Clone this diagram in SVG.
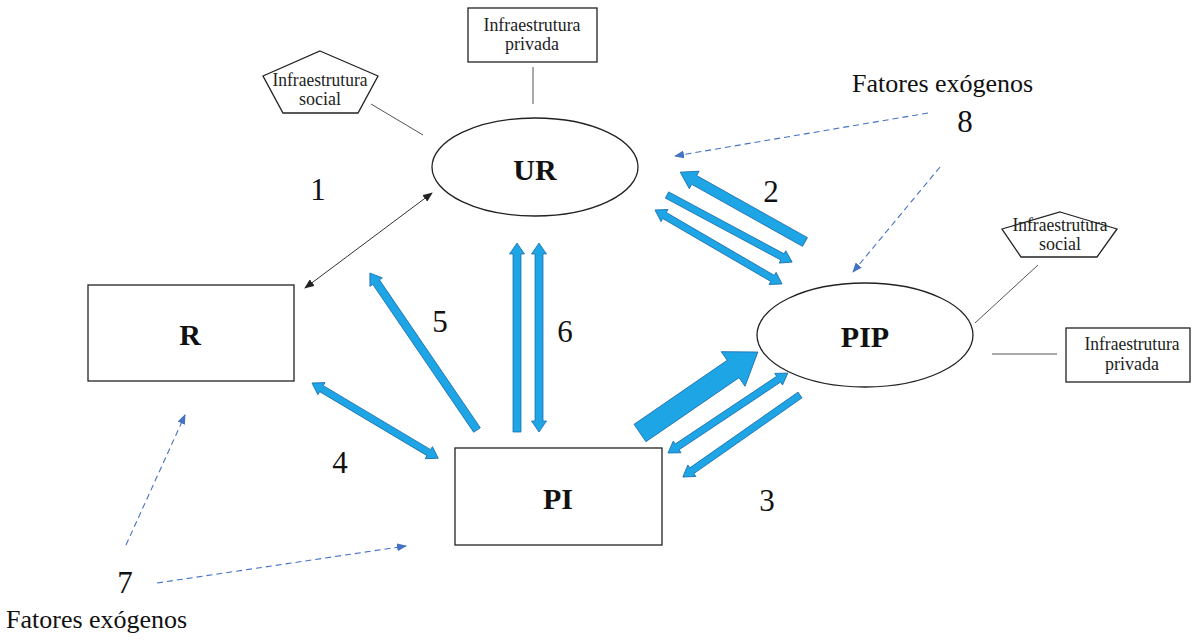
<svg xmlns="http://www.w3.org/2000/svg" width="1192" height="641" viewBox="0 0 1192 641" font-family="'Liberation Serif', 'Times New Roman', 'DejaVu Serif', serif">
<defs>
<style>
text{font-family:'Liberation Serif','Times New Roman','DejaVu Serif',serif}
.node{fill:#fff;stroke:#222;stroke-width:1.3}
.sm{font-size:18px;fill:#222;text-anchor:middle}
.big{font-size:30px;font-weight:bold;fill:#111;text-anchor:middle}
.num{font-size:31px;fill:#111;text-anchor:middle}
.lbl{font-size:26px;fill:#111}
.ln{stroke:#555;stroke-width:1}
.blue{fill:#1ea5e6;stroke:#1c6fae;stroke-width:0.8}
.dash{stroke:#4472c4;stroke-width:1.1;stroke-dasharray:6,4;fill:none;marker-end:url(#dh)}
</style>
<marker id="dh" markerWidth="10" markerHeight="8" refX="9" refY="4" orient="auto" markerUnits="userSpaceOnUse"><path d="M0,0 L10,4 L0,8 Z" fill="#4472c4"/></marker>
<marker id="bh" markerWidth="10" markerHeight="8" refX="9" refY="4" orient="auto-start-reverse" markerUnits="userSpaceOnUse"><path d="M0,0 L10,4 L0,8 Z" fill="#222"/></marker>
</defs>

<g id="node-UR"><ellipse class="node" cx="535" cy="167" rx="103" ry="49"/><text class="big" x="535" y="180">UR</text></g>
<g id="node-R"><rect class="node" x="88" y="285" width="206" height="96"/><text class="big" x="190" y="345">R</text></g>
<g id="node-PI"><rect class="node" x="455" y="448" width="207" height="97"/><text class="big" x="558" y="509">PI</text></g>
<g id="node-PIP"><ellipse class="node" cx="865" cy="335" rx="108" ry="52"/><text class="big" x="865" y="347">PIP</text></g>

<g id="node-infra-priv-top"><rect class="node" x="468" y="8" width="129" height="54"/><text class="sm" x="532" y="31" textLength="97" lengthAdjust="spacingAndGlyphs">Infraestrutura</text><text class="sm" x="532" y="50">privada</text></g>
<g id="node-infra-soc-top"><polygon class="node" points="320,51 378,76 358,113 283,113 263,76"/><text class="sm" x="320" y="86" textLength="95" lengthAdjust="spacingAndGlyphs">Infraestrutura</text><text class="sm" x="320" y="105">social</text></g>
<g id="node-infra-soc-right"><polygon class="node" points="1060,212 1117,229 1097,257 1021,257 1002,229"/><text class="sm" x="1060" y="231" textLength="95" lengthAdjust="spacingAndGlyphs">Infraestrutura</text><text class="sm" x="1060" y="250">social</text></g>
<g id="node-infra-priv-right"><rect class="node" x="1066" y="328" width="124" height="54"/><text class="sm" x="1132" y="350" textLength="95" lengthAdjust="spacingAndGlyphs">Infraestrutura</text><text class="sm" x="1132" y="370">privada</text></g>

<g id="labels">
<text class="lbl" x="852" y="92">Fatores exógenos</text>
<text class="lbl" x="6" y="628">Fatores exógenos</text>
<text class="num" x="318" y="200">1</text>
<text class="num" x="771" y="202">2</text>
<text class="num" x="767" y="511">3</text>
<text class="num" x="340" y="473">4</text>
<text class="num" x="440" y="332">5</text>
<text class="num" x="565" y="342">6</text>
<text class="num" x="125" y="593">7</text>
<text class="num" x="965" y="132">8</text>
</g>

<g id="connectors">
<line class="ln" x1="533" y1="67" x2="533" y2="104"/>
<line class="ln" x1="371" y1="104" x2="423" y2="135"/>
<line class="ln" x1="1038" y1="265" x2="975" y2="323"/>
<line class="ln" x1="992" y1="354" x2="1057" y2="354"/>
<line x1="305" y1="288" x2="432" y2="193" stroke="#333" stroke-width="1" marker-start="url(#bh)" marker-end="url(#bh)"/>

<path class="dash" d="M928,113 L675,156"/>
<path class="dash" d="M940,167 L853,272"/>
<path class="dash" d="M126,545 L185,415"/>
<path class="dash" d="M157,583 L406,546"/>

<polygon class="blue" transform="translate(805,242) rotate(209.25)" points="0,-5 127,-5 127,-10 143,0 127,10 127,5 0,5"/>
<polygon class="blue" transform="translate(667,195) rotate(28.2)" points="0,-3.5 131,-3.5 131,-7 142,0 131,7 131,3.5 0,3.5"/>
<polygon class="blue" transform="translate(655,210) rotate(30.2)" points="0,0 11,-7 11,-3.5 136,-3.5 136,-7 147,0 136,7 136,3.5 11,3.5 11,7"/>
<polygon class="blue" transform="translate(640,433) rotate(-34.5)" points="0,-10.5 113,-10.5 113,-21 143,0 113,21 113,10.5 0,10.5"/>
<polygon class="blue" transform="translate(668,453) rotate(-33.7)" points="0,0 11,-7 11,-3.5 133,-3.5 133,-7 144,0 133,7 133,3.5 11,3.5 11,7"/>
<polygon class="blue" transform="translate(800,395) rotate(145)" points="0,-3.5 132,-3.5 132,-7 143,0 132,7 132,3.5 0,3.5"/>
<polygon class="blue" transform="translate(312,383) rotate(30.8)" points="0,0 11,-7 11,-3.5 136,-3.5 136,-7 147,0 136,7 136,3.5 11,3.5 11,7"/>
<polygon class="blue" transform="translate(477,430) rotate(-124.3)" points="0,-4 179,-4 179,-7.5 190,0 179,7.5 179,4 0,4"/>
<polygon class="blue" transform="translate(517,432) rotate(-90)" points="0,-4 178,-4 178,-7.5 189,0 178,7.5 178,4 0,4"/>
<polygon class="blue" transform="translate(539,243) rotate(90)" points="0,0 11,-7.5 11,-4 178,-4 178,-7.5 189,0 178,7.5 178,4 11,4 11,7.5"/>
</g>
</svg>
